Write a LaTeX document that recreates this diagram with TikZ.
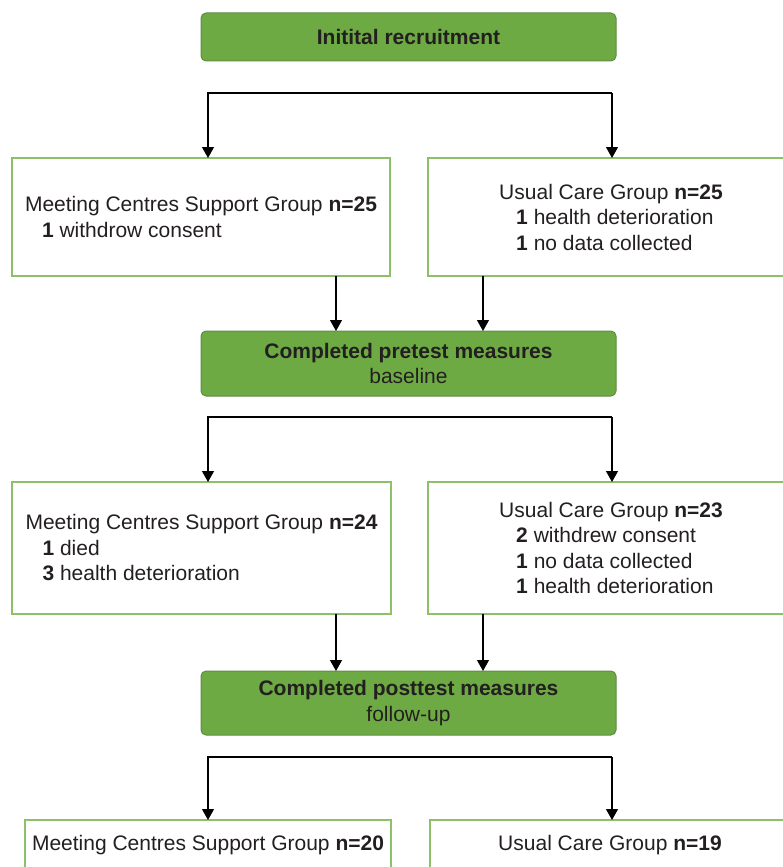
\documentclass[tikz,border=0pt]{standalone}
\usepackage{fontspec}
\setmainfont{Liberation Sans}
\usetikzlibrary{arrows.meta}
\definecolor{boxgreen}{RGB}{109,170,68}
\definecolor{edgegreen}{RGB}{96,140,68}
\definecolor{linegreen}{RGB}{141,192,104}
\definecolor{txt}{RGB}{35,31,32}

\begin{document}
\begin{tikzpicture}[x=1pt,y=-1pt,
  every node/.style={font=\fontsize{21}{25.5}\selectfont,text=txt,outer sep=0pt,inner sep=0pt},
  stage/.style={draw=edgegreen,fill=boxgreen,line width=1pt,rounded corners=5pt,minimum width=415pt,align=center},
  group/.style={draw=linegreen,line width=1.3pt,align=left},
  arr/.style={line width=1.2pt,-{Triangle[width=12pt,length=11pt]}}]
   \useasboundingbox (0,0) rectangle (783,867);
   \clip (0,0) rectangle (783,867);
   \node[stage,minimum height=48pt] (init) at (408.5,37) {\textbf{Initital recruitment}};
   \node[group,minimum width=378pt,minimum height=118pt] (mc1) at (201,217)
      {Meeting Centres Support Group \textbf{n=25}\\\hspace*{17pt}\textbf{1} withdrow consent};
   \node[group,minimum width=366pt,minimum height=118pt] (uc1) at (611,217)
      {Usual Care Group \textbf{n=25}\\\hspace*{17pt}\textbf{1} health deterioration\\\hspace*{17pt}\textbf{1} no data collected};
   \node[stage,minimum height=65pt] (pre) at (408.5,363.5) {\textbf{Completed pretest measures}\\baseline};
   \node[group,minimum width=379pt,minimum height=132pt] (mc2) at (201.5,548)
      {Meeting Centres Support Group \textbf{n=24}\\\hspace*{17pt}\textbf{1} died\\\hspace*{17pt}\textbf{3} health deterioration};
   \node[group,minimum width=366pt,minimum height=132pt] (uc2) at (611,548)
      {Usual Care Group \textbf{n=23}\\\hspace*{17pt}\textbf{2} withdrew consent\\\hspace*{17pt}\textbf{1} no data collected\\\hspace*{17pt}\textbf{1} health deterioration};
   \node[stage,minimum height=64pt] (post) at (408.5,703) {\textbf{Completed posttest measures}\\follow-up};
   \node[group,minimum width=366pt,minimum height=50pt] (mc3) at (208,845) {Meeting Centres Support Group \textbf{n=20}};
   \node[group,minimum width=360pt,minimum height=50pt] (uc3) at (610,845) {Usual Care Group \textbf{n=19}};
   \coordinate (k1l) at (208,93); \coordinate (k1r) at (612,93);
   \coordinate (k2l) at (208,417); \coordinate (k2r) at (612,417);
   \coordinate (k3l) at (208,757); \coordinate (k3r) at (612,757);
   \draw[arr] (k1r) -- (k1l) -- (k1l |- mc1.north);
   \draw[arr] (k1r) -- (k1r |- uc1.north);
   \draw[arr] ([xshift=-54pt]mc1.south east) -- ([xshift=-54pt]mc1.south east |- pre.north);
   \draw[arr] ([xshift=55pt]uc1.south west) -- ([xshift=55pt]uc1.south west |- pre.north);
   \draw[arr] (k2r) -- (k2l) -- (k2l |- mc2.north);
   \draw[arr] (k2r) -- (k2r |- uc2.north);
   \draw[arr] ([xshift=-55pt]mc2.south east) -- ([xshift=-55pt]mc2.south east |- post.north);
   \draw[arr] ([xshift=55pt]uc2.south west) -- ([xshift=55pt]uc2.south west |- post.north);
   \draw[arr] (k3r) -- (k3l) -- (k3l |- mc3.north);
   \draw[arr] (k3r) -- (k3r |- uc3.north);
\end{tikzpicture}
\end{document}
